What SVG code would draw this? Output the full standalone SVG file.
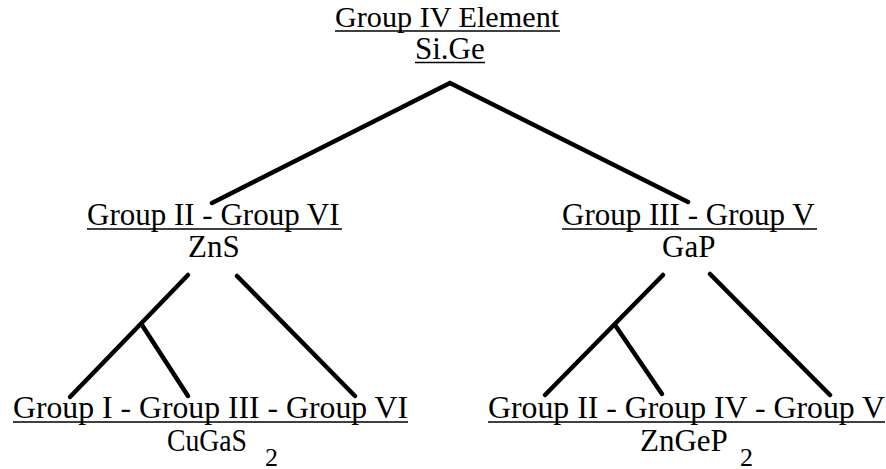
<svg xmlns="http://www.w3.org/2000/svg" width="886" height="469" viewBox="0 0 886 469">
<style>
.t{font-size:31px;fill:#000}
.s{font-size:26px}
.ul{stroke:#000;stroke-width:1.6}
.c{stroke:#000;stroke-width:4.5;stroke-linecap:round;fill:none}
</style>
<rect width="886" height="469" fill="#fff"/>
<g id="root" class="t">
<text x="335" y="27" font-family="Liberation Serif" style="font-size:30.2px">Group IV Element</text>
<line class="ul" x1="335" y1="31" x2="560" y2="31"/>
<text x="415" y="59" font-family="Liberation Serif">Si.Ge</text>
<line class="ul" x1="415" y1="62.5" x2="485" y2="62.5"/>
</g>
<g id="ii-vi" class="t">
<text x="87" y="225" font-family="Liberation Serif">Group II - Group VI</text>
<line class="ul" x1="87" y1="229" x2="342" y2="229"/>
<text x="188" y="257" font-family="Liberation Serif">ZnS</text>
</g>
<g id="iii-v" class="t">
<text x="562" y="225" font-family="Liberation Serif">Group III - Group V</text>
<line class="ul" x1="562" y1="229" x2="817" y2="229"/>
<text x="662" y="257" font-family="Liberation Serif">GaP</text>
</g>
<g id="i-iii-vi" class="t">
<text x="13" y="418" font-family="Liberation Serif" textLength="395" lengthAdjust="spacingAndGlyphs">Group I - Group III - Group VI</text>
<line class="ul" x1="13" y1="422" x2="408" y2="422"/>
<text x="167" y="451" font-family="Liberation Serif" textLength="80" lengthAdjust="spacingAndGlyphs">CuGaS</text>
<text class="s" x="265" y="466" font-family="Liberation Serif">2</text>
</g>
<g id="ii-iv-v" class="t">
<text x="488" y="418" font-family="Liberation Serif" textLength="397" lengthAdjust="spacingAndGlyphs">Group II - Group IV - Group V</text>
<line class="ul" x1="488" y1="422" x2="885" y2="422"/>
<text x="640" y="451" font-family="Liberation Serif">ZnGeP</text>
<text class="s" x="740" y="466" font-family="Liberation Serif">2</text>
</g>
<g id="connectors">
<polyline class="c" points="212,203 450,83 688,202"/>
<line class="c" x1="188" y1="275" x2="70" y2="397"/>
<line class="c" x1="142" y1="325" x2="188" y2="396"/>
<line class="c" x1="237" y1="276" x2="355" y2="396"/>
<line class="c" x1="663" y1="275" x2="545" y2="395"/>
<line class="c" x1="615" y1="325" x2="662" y2="394"/>
<line class="c" x1="710" y1="274" x2="830" y2="395"/>
</g>
</svg>
